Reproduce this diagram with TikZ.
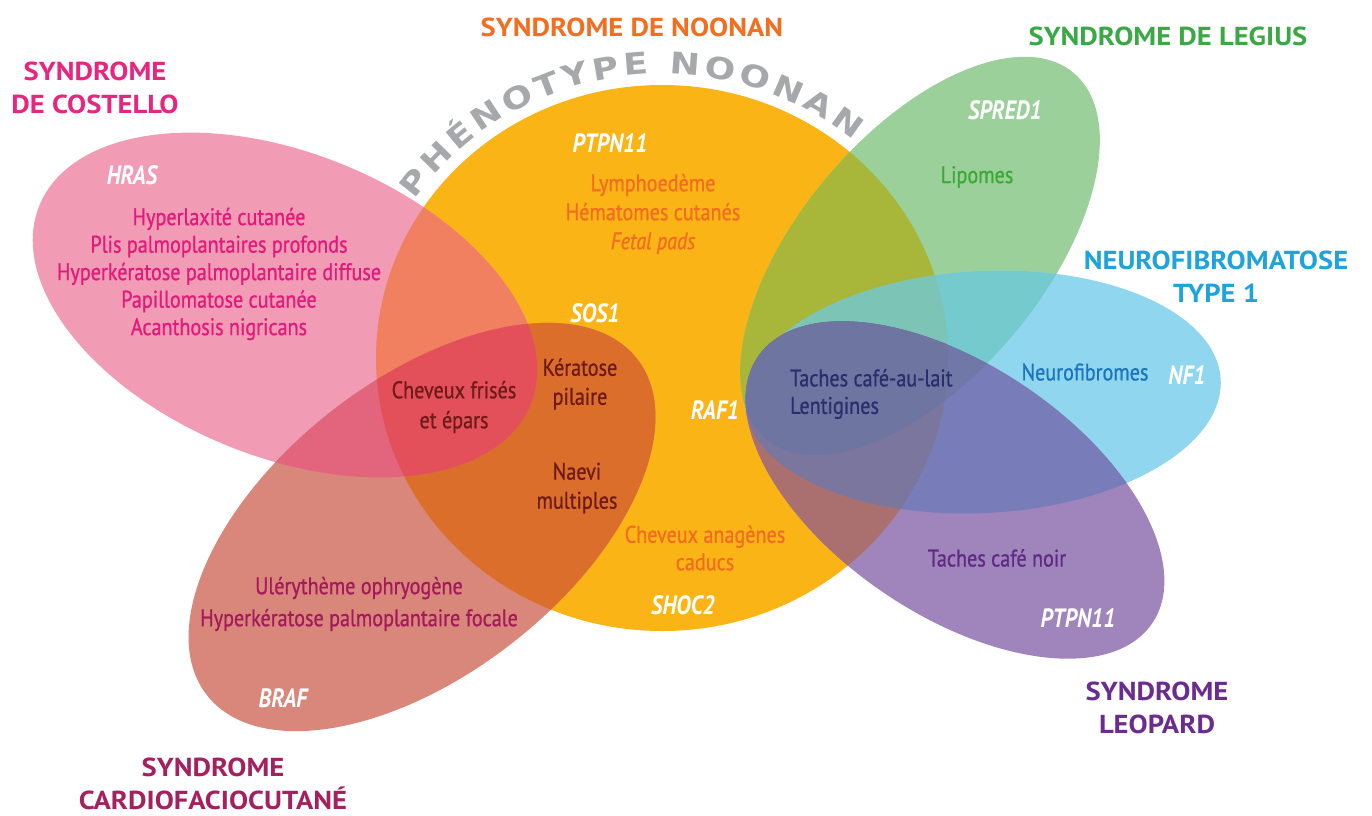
\documentclass[tikz,border=0pt]{standalone}
\usepackage{fontspec}
\setmainfont{PT Sans}
\newfontfamily\condfont{PT Sans}[FakeStretch=0.84, FakeBold=0.8]
\newfontfamily\genefont{PT Sans}[FakeStretch=0.84]
\newfontfamily\headfont{PT Sans}[FakeStretch=1.1]
\newfontfamily\arcfont{DejaVu Sans}[FakeStretch=1.2]
\usetikzlibrary{calc,decorations.text}

% colours of the zones
\definecolor{noononly}{HTML}{FBB416}
\definecolor{costonly}{HTML}{F29BB5}
\definecolor{cardonly}{HTML}{D9877A}
\definecolor{costnoon}{HTML}{F0805F}
\definecolor{cardnoon}{HTML}{DB6E2A}
\definecolor{costcard}{HTML}{E2657D}
\definecolor{allthree}{HTML}{E4505A}
\definecolor{legionly}{HTML}{9BD09B}
\definecolor{leginoon}{HTML}{A8B73A}
\definecolor{nfonly}{HTML}{8FD6EE}
\definecolor{nflegi}{HTML}{74CACC}
\definecolor{nfnoon}{HTML}{7DC3B5}
\definecolor{nflegnoon}{HTML}{7BC4B6}
\definecolor{leoponly}{HTML}{A084BC}
\definecolor{leopnoon}{HTML}{AA7070}
\definecolor{leopnf}{HTML}{787DB9}
\definecolor{leopnfnoon}{HTML}{7A769E}
\definecolor{leoplegi}{HTML}{7078A8}
\definecolor{leopall}{HTML}{6E75A0}
% colours of the texts
\definecolor{costtxt}{HTML}{E4197C}
\definecolor{noontxt}{HTML}{F26D21}
\definecolor{cardtxt}{HTML}{A3195B}
\definecolor{maroon}{HTML}{6E1A18}
\definecolor{legitxt}{HTML}{3BAA35}
\definecolor{nftxt}{HTML}{1C75BC}
\definecolor{navytxt}{HTML}{2B2E6E}
\definecolor{leoptxt}{HTML}{5E2A84}
\definecolor{costhead}{HTML}{E6267F}
\definecolor{noonhead}{HTML}{F26F22}
\definecolor{legihead}{HTML}{39A845}
\definecolor{nfhead}{HTML}{1FA3DC}
\definecolor{leophead}{HTML}{6A2C8F}
\definecolor{cardhead}{HTML}{A4215F}
\definecolor{arcgray}{HTML}{A6A8AB}

% the six syndromes
\newcommand{\noonan}{(662,-358) circle [x radius=286pt, y radius=273pt]}
\newcommand{\costello}{(285,-305) circle [x radius=265pt, y radius=152pt, rotate=-22]}
\newcommand{\cardio}{(422,-527) circle [x radius=273pt, y radius=147pt, rotate=38]}
\newcommand{\legius}{(920,-256) circle [x radius=239pt, y radius=122pt, rotate=50]}
\newcommand{\nfone}{(983,-392) circle [x radius=238pt, y radius=121pt, rotate=3]}
\newcommand{\leopard}{(955,-490) circle [x radius=238pt, y radius=125pt, rotate=-34]}

% overlaps
\newcommand{\zonetwo}[3]{\begin{scope}\clip #1; \fill[#3] #2; \end{scope}}
\newcommand{\zonethree}[4]{\begin{scope}\clip #1; \clip #2; \fill[#4] #3; \end{scope}}

\tikzset{
  title/.style={font=\headfont\bfseries\fontsize{26}{33}\selectfont, align=center, inner sep=0pt},
  symptom/.style={font=\condfont\fontsize{24}{27.5}\selectfont, align=center, inner sep=0pt},
  gene/.style={font=\genefont\bfseries\itshape\fontsize{26.5}{30}\selectfont, text=white, inner sep=0pt}
}

\begin{document}
\begin{tikzpicture}[x=1pt, y=1pt]
  \useasboundingbox (0,0) rectangle (1372,-815);

  \fill[noononly] \noonan;
  \fill[costonly] \costello;
  \fill[cardonly] \cardio;
  \fill[legionly] \legius;
  \fill[nfonly] \nfone;
  \fill[leoponly] \leopard;

  \zonetwo{\noonan}{\costello}{costnoon}
  \zonetwo{\noonan}{\cardio}{cardnoon}
  \zonetwo{\costello}{\cardio}{costcard}
  \zonethree{\noonan}{\costello}{\cardio}{allthree}
  \zonetwo{\noonan}{\legius}{leginoon}
  \zonetwo{\noonan}{\nfone}{nfnoon}
  \zonetwo{\legius}{\nfone}{nflegi}
  \zonethree{\noonan}{\legius}{\nfone}{nflegnoon}
  \zonetwo{\noonan}{\leopard}{leopnoon}
  \zonetwo{\nfone}{\leopard}{leopnf}
  \zonetwo{\legius}{\leopard}{leoplegi}
  \zonethree{\noonan}{\nfone}{\leopard}{leopnfnoon}
  \begin{scope}
    \clip \noonan; \clip \legius;
    \fill[leopall] \leopard;
  \end{scope}

  % curved label above Noonan
  \coordinate (arcstart) at ($(662,-358)+(146:298pt and 284pt)$);
  \path[decorate, decoration={text along path, text color=arcgray,
      text={|\arcfont\bfseries\fontsize{30}{30}\selectfont|PHÉNOTYPE NOONAN},
      text align=fit to path}]
    (arcstart) arc [start angle=146, end angle=50, x radius=298pt, y radius=284pt];

  % titles
  \node[title, text=costhead] (costtitle) at (95,-88) {SYNDROME\\DE COSTELLO};
  \node[title, text=noonhead] (noontitle) at (632,-27) {SYNDROME DE NOONAN};
  \node[title, text=legihead] (legititle) at (1168,-36) {SYNDROME DE LEGIUS};
  \node[title, text=nfhead] (nftitle) at (1216,-277) {NEUROFIBROMATOSE\\TYPE 1};
  \node[title, text=leophead] (leoptitle) at (1157,-708) {SYNDROME\\LEOPARD};
  \node[title, text=cardhead] (cardtitle) at (213,-784) {SYNDROME\\CARDIOFACIOCUTANÉ};

  % genes
  \node[gene] (hras) at (132,-175) {HRAS};
  \node[gene] (ptpn) at (610,-143) {PTPN11};
  \node[gene] (sos) at (595,-313) {SOS1};
  \node[gene] (raf) at (715,-410) {RAF1};
  \node[gene] (shoc) at (683,-605) {SHOC2};
  \node[gene] (braf) at (283,-698) {BRAF};
  \node[gene] (spred) at (1005,-110) {SPRED1};
  \node[gene] (nfgene) at (1187,-375) {NF1};
  \node[gene] (ptpnleop) at (1078,-618) {PTPN11};

  % signs
  \node[symptom, text=costtxt] (costsigns) at (219,-274)
    {Hyperlaxité cutanée\\Plis palmoplantaires profonds\\Hyperkératose palmoplantaire diffuse\\Papillomatose cutanée\\Acanthosis nigricans};
  \node[symptom, text=noontxt, font=\condfont\fontsize{24}{29}\selectfont] (noonsigns) at (653,-214)
    {Lymphoedème\\Hématomes cutanés\\\textit{Fetal pads}};
  \node[symptom, text=noontxt] (hair) at (705,-548) {Cheveux anagènes\\caducs};
  \node[symptom, text=maroon, font=\condfont\fontsize{24}{29}\selectfont] (kera) at (580,-384) {Kératose\\pilaire};
  \node[symptom, text=maroon, font=\condfont\fontsize{24}{29}\selectfont] (naevi) at (577,-488) {Naevi\\multiples};
  \node[symptom, text=maroon, font=\condfont\fontsize{24}{30}\selectfont] (curly) at (454,-407) {Cheveux frisés\\et épars};
  \node[symptom, text=cardtxt, font=\condfont\fontsize{24}{32}\selectfont] (cardsigns) at (359,-604)
    {Ulérythème ophryogène\\Hyperkératose palmoplantaire focale};
  \node[symptom, text=legitxt] (lipo) at (977,-177) {Lipomes};
  \node[symptom, text=nftxt] (neurofib) at (1085,-372) {Neurofibromes};
  \node[symptom, text=navytxt, align=left, anchor=west] (cal) at (790,-394) {Taches café-au-lait\\Lentigines};
  \node[symptom, text=leoptxt] (noir) at (997,-558) {Taches café noir};
\end{tikzpicture}
\end{document}
